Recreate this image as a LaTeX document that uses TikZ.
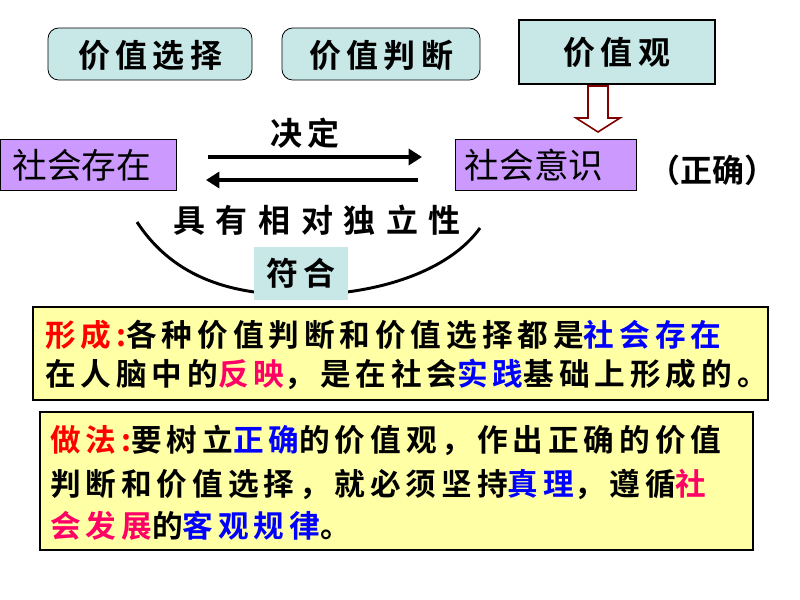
\documentclass[tikz,border=0pt]{standalone}
\usepackage{fontspec}
\usetikzlibrary{arrows.meta}
\newfontfamily\cjk{Noto Sans CJK SC}
\newfontfamily\cjkb{Noto Sans CJK SC Bold}
\newfontfamily\cjkbs[LetterSpace=16]{Noto Sans CJK SC Bold}
\begin{document}
\begin{tikzpicture}[x=0.75pt,y=-0.75pt,
  cyanbox/.style={fill=cyanfill,draw=black,line width=0.6pt},
  purplebox/.style={fill=purplefill,draw=black,line width=0.6pt},
  yellowbox/.style={fill=yellowfill,draw=black,line width=0.8pt},
  big/.style={font=\cjkb\fontsize{24}{28}\selectfont},
  body/.style={font=\cjkbs\fontsize{23}{28}\selectfont,anchor=west,inner sep=0pt},
  normal/.style={font=\cjk\fontsize{26}{30}\selectfont}]
\definecolor{cyanfill}{HTML}{C8E8E8}
\definecolor{purplefill}{HTML}{CC99FF}
\definecolor{yellowfill}{HTML}{FFFFA6}
\definecolor{dred}{HTML}{800000}
\definecolor{pinkred}{HTML}{FF0066}
\useasboundingbox (0,0) rectangle (800,600);
\fill[white] (0,0) rectangle (800,600);
% top boxes
\draw[cyanbox,rounded corners=8pt] (48,28) rectangle (252,80);
\node[big] (xz) at (150,55) {价\,值\,选\,择};
\draw[cyanbox,rounded corners=8pt] (282,28) rectangle (480,80);
\node[big] (pd) at (381,55) {价\,值\,判\,断};
\draw[fill=cyanfill,draw=black,line width=1.5pt] (519,20) rectangle (715,84);
\node[big] (jzg) at (617,52) {价\,值\,观};
% hollow arrow
\draw[dred,line width=1.2pt,fill=white] (588,86) -- (608,86) -- (608,118) -- (620,118) -- (598,132) -- (576,118) -- (588,118) -- cycle;
% purple boxes
\node[purplebox,minimum width=176pt*0.75,minimum height=51*0.75pt,normal,anchor=north west,inner sep=0pt,align=left,text width=160*0.75pt] (sc) at (0,139) {\hspace{3pt}社会存在};
\node[purplebox,minimum width=181*0.75pt,minimum height=51*0.75pt,normal,anchor=north west,inner sep=0pt,text width=170*0.75pt] (sy) at (455,139) {\hspace{3pt}社会意识};
\node[big] at (712,170) {（正确）};
% arrows
\coordinate (a1) at (208,157);
\coordinate (a2) at (422,157);
\coordinate (b1) at (418,180);
\coordinate (b2) at (206,180);
\draw[line width=3pt,-{Triangle[length=10pt,width=12pt]}] (a1) -- (a2);
\draw[line width=3pt,-{Triangle[length=10pt,width=12pt]}] (b1) -- (b2);
\node[big] (jd) at (305,133) {决\,定};
\node[big] (dl) at (317,220) {具\,\,有\,\,相\,\,对\,\,独\,\,立\,\,性};
% arc
\draw[line width=2.2pt] (137,222) .. controls (175,280) and (235,295) .. (300,295) .. controls (380,295) and (450,270) .. (480,228);
\node[fill=cyanfill,minimum width=94*0.75pt,minimum height=53*0.75pt,big,inner sep=0pt] (fh) at (301,273) {符\,合};
% yellow boxes
\draw[yellowbox] (33,307) rectangle (768,400);
\node[body] (l1) at (45,335) {\textcolor{red}{形成:}各种价值判断和价值选择都是\textcolor{blue}{社会存在}};
\node[body] (l2) at (45,374) {在人脑中的\textcolor{pinkred}{反映}，是在社会\textcolor{blue}{实践}基础上形成的。};
\draw[yellowbox] (40,412) rectangle (753,550);
\node[body] (m1) at (50,440) {\textcolor{red}{做法:}要树立\textcolor{blue}{正确}的价值观，作出正确的价值};
\node[body] (m2) at (50,484) {判断和价值选择，就必须坚持\textcolor{blue}{真理}，遵循\textcolor{pinkred}{社}};
\node[body] (m3) at (50,526) {\textcolor{pinkred}{会发展}的\textcolor{blue}{客观规律}。};
\end{tikzpicture}
\end{document}
